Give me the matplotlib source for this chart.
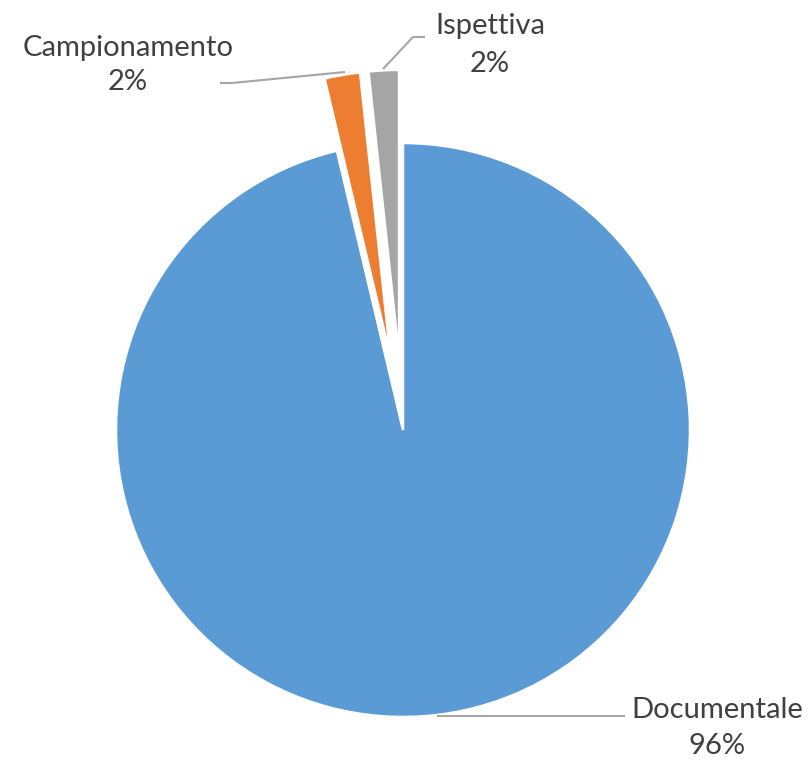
import matplotlib
matplotlib.use("Agg")
import matplotlib.pyplot as plt

categories = ["Documentale", "Campionamento", "Ispettiva"]
values = [96.3, 2.0, 1.7]
pct_labels = ["96%", "2%", "2%"]
colors = ["#5B9BD5", "#ED7D31", "#A5A5A5"]
explode = [0.0, 0.255, 0.255]

W, H = 810, 760
cx, cy, R = 403, 430, 287

fig = plt.figure(figsize=(W / 100, H / 100), dpi=100)
ax = fig.add_axes([0, 0, 1, 1])

ax.pie(values, colors=colors, explode=explode, startangle=90, counterclock=False,
       radius=1.0, wedgeprops=dict(edgecolor="white", linewidth=1.8))
ax.set_aspect("auto")
ax.set_xlim(-cx / R, (W - cx) / R)
ax.set_ylim(-(H - cy) / R, cy / R)
ax.axis("off")

def P(px, py):
    return ((px - cx) / R, (cy - py) / R)

txt = dict(fontsize=21, color="#404040", family=["Lato", "DejaVu Sans"], ha="center", va="center")
line = dict(color="#A6A6A6", linewidth=1.5, solid_capstyle="butt")

# Documentale label
x0, y0 = P(437, 716); x1, y1 = P(625, 716)
ax.plot([x0, x1], [y0, y1], **line)
ax.text(*P(717, 710), categories[0], **txt)
ax.text(*P(717, 746), pct_labels[0], **txt)

# Campionamento label
pts = [P(345, 72), P(232, 83), P(220, 83)]
ax.plot([p[0] for p in pts], [p[1] for p in pts], **line)
ax.text(*P(128, 48), categories[1], **txt)
ax.text(*P(128, 82), pct_labels[1], **txt)

# Ispettiva label
pts = [P(383, 69), P(413, 37), P(425, 37)]
ax.plot([p[0] for p in pts], [p[1] for p in pts], **line)
ax.text(*P(490, 26), categories[2], **txt)
ax.text(*P(490, 64), pct_labels[2], **txt)

fig.savefig("out.png", dpi=100)
